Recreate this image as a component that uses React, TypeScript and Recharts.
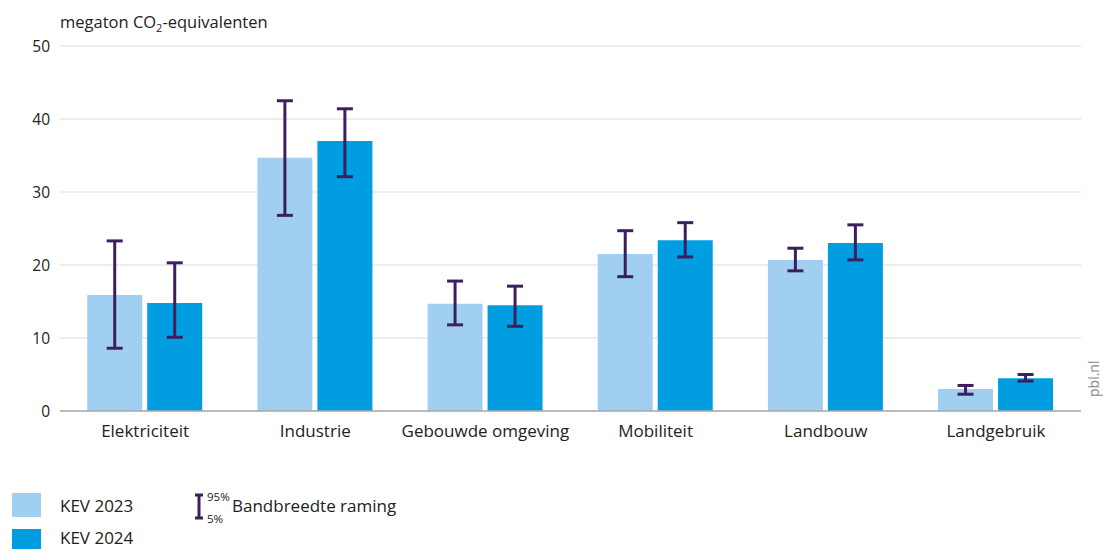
import React from 'react';
import { BarChart, Bar, XAxis, YAxis, CartesianGrid, ErrorBar } from 'recharts';

const categories = ['Elektriciteit', 'Industrie', 'Gebouwde omgeving', 'Mobiliteit', 'Landbouw', 'Landgebruik'];
const kev2023 = [15.9, 34.7, 14.7, 21.5, 20.7, 3.0];
const kev2023Low = [8.6, 26.8, 11.8, 18.4, 19.2, 2.3];
const kev2023High = [23.3, 42.5, 17.8, 24.7, 22.3, 3.5];
const kev2024 = [14.8, 37.0, 14.5, 23.4, 23.0, 4.5];
const kev2024Low = [10.1, 32.1, 11.6, 21.1, 20.7, 4.1];
const kev2024High = [20.3, 41.4, 17.1, 25.8, 25.5, 5.0];
const yTicks = [0, 10, 20, 30, 40, 50];

const LIGHT = '#a0cff2';
const DARK = '#009ee0';
const ERR = '#3b1f5e';
const FONT = "'Open Sans', 'Noto Sans', sans-serif";

const data = categories.map((name, i) => ({
  name,
  kev2023: kev2023[i],
  err2023: [kev2023[i] - kev2023Low[i], kev2023High[i] - kev2023[i]],
  kev2024: kev2024[i],
  err2024: [kev2024[i] - kev2024Low[i], kev2024High[i] - kev2024[i]],
}));

export default function App() {
  return (
    <div style={{ position: 'absolute', left: 0, top: 0, width: 1103, height: 549, overflow: 'hidden', fontFamily: FONT, color: '#222', background: '#fff' }}>
      <div style={{ position: 'absolute', left: 60, top: 10, fontSize: 16.5 }}>
        megaton CO<sub style={{ fontSize: 11, verticalAlign: -4 }}>2</sub>-equivalenten
      </div>

      <BarChart
        width={1103}
        height={549}
        data={data}
        margin={{ top: 46, right: 22, bottom: 108, left: 0 }}
        barCategoryGap="16%"
        barGap={5}
      >
        <CartesianGrid vertical={false} stroke="#dcdcdc" strokeWidth={1.2} />
        <XAxis
          dataKey="name"
          height={30}
          tickLine={false}
          axisLine={{ stroke: '#aaa', strokeWidth: 1.5 }}
          tick={{ fill: '#222', fontSize: 17, fontFamily: FONT }}
          tickMargin={8}
          interval={0}
        />
        <YAxis
          width={60}
          domain={[0, 50]}
          ticks={yTicks}
          axisLine={false}
          tickLine={false}
          tickSize={0}
          tickMargin={10}
          tick={{ fill: '#222', fontSize: 15.5, fontFamily: FONT }}
        />
        <Bar dataKey="kev2023" fill={LIGHT} isAnimationActive={false}>
          <ErrorBar dataKey="err2023" width={8} stroke={ERR} strokeWidth={3} />
        </Bar>
        <Bar dataKey="kev2024" fill={DARK} isAnimationActive={false}>
          <ErrorBar dataKey="err2024" width={8} stroke={ERR} strokeWidth={3} />
        </Bar>
      </BarChart>

      <div
        style={{
          position: 'absolute',
          left: 1086,
          top: 397,
          transform: 'rotate(-90deg)',
          transformOrigin: 'left top',
          fontSize: 14,
          lineHeight: '15px',
          whiteSpace: 'nowrap',
          color: '#888',
        }}
      >
        pbl.nl
      </div>

      <div style={{ position: 'absolute', left: 12, top: 493, width: 29, height: 24, background: LIGHT }} />
      <div style={{ position: 'absolute', left: 60, top: 494, fontSize: 17 }}>KEV 2023</div>
      <div style={{ position: 'absolute', left: 12, top: 529, width: 29, height: 24, background: DARK }} />
      <div style={{ position: 'absolute', left: 60, top: 526, fontSize: 17 }}>KEV 2024</div>

      <svg style={{ position: 'absolute', left: 194, top: 493 }} width={10} height={28}>
        <line x1={5} y1={2} x2={5} y2={25} stroke={ERR} strokeWidth={3} />
        <line x1={1} y1={2} x2={9} y2={2} stroke={ERR} strokeWidth={3} />
        <line x1={1} y1={25} x2={9} y2={25} stroke={ERR} strokeWidth={3} />
      </svg>
      <div style={{ position: 'absolute', left: 207, top: 489, fontSize: 11.5 }}>95%</div>
      <div style={{ position: 'absolute', left: 207, top: 511, fontSize: 11.5 }}>5%</div>
      <div style={{ position: 'absolute', left: 232, top: 494, fontSize: 17 }}>Bandbreedte raming</div>
    </div>
  );
}
